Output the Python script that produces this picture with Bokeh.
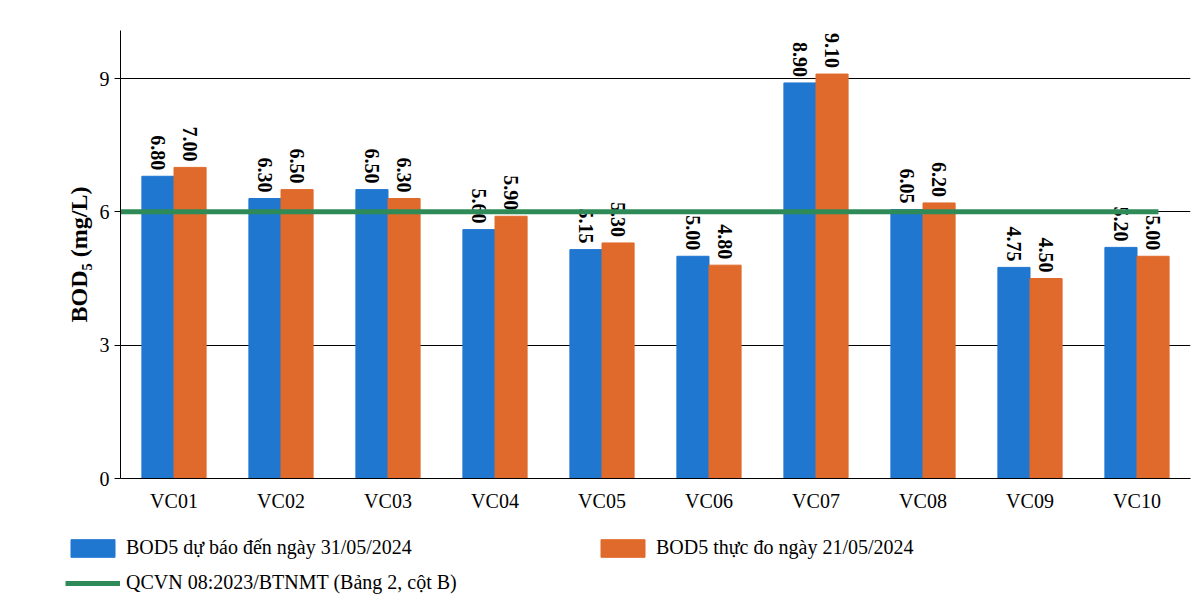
import math
from bokeh.plotting import figure
from bokeh.layouts import column, row
from bokeh.models import ColumnDataSource, FactorRange, Legend, LegendItem, FixedTicker
from bokeh.transform import dodge
from bokeh.embed import file_html
from bokeh.resources import INLINE

stations = ["VC01","VC02","VC03","VC04","VC05","VC06","VC07","VC08","VC09","VC10"]
forecast = [6.80,6.30,6.50,5.60,5.15,5.00,8.90,6.05,4.75,5.20]
measured = [7.00,6.50,6.30,5.90,5.30,4.80,9.10,6.20,4.50,5.00]
limit = 6.0
yticks = [0,3,6,9]
BLUE, ORANGE, GREEN = "#1f77d0", "#e06a2b", "#2e8b57"

src = ColumnDataSource(dict(x=stations, f=forecast, m=measured,
                            fl=[f"{v:.2f}" for v in forecast], ml=[f"{v:.2f}" for v in measured]))

p = figure(x_range=FactorRange(*stations, range_padding=0), y_range=(0, 10.08),
           width=1192, height=515, output_backend="svg", toolbar_location=None,
           min_border_left=120, min_border_right=2, min_border_top=30, min_border_bottom=37)
p.outline_line_color = None
p.xgrid.grid_line_color = None
p.ygrid.grid_line_color = "black"
p.ygrid.grid_line_width = 1
p.yaxis.ticker = FixedTicker(ticks=yticks)
for ax in (p.xaxis[0], p.yaxis[0]):
    ax.major_label_text_font = "Liberation Serif"
    ax.major_label_text_font_size = "20px"
    ax.major_label_text_color = "black"
    ax.axis_line_color = "black"
    ax.minor_tick_line_color = None
p.xaxis.major_tick_line_color = None
p.yaxis.major_tick_in = 0
p.yaxis.major_tick_out = 6
p.yaxis.axis_label = "BOD₅ (mg/L)"
p.yaxis.axis_label_text_font = "Liberation Serif"
p.yaxis.axis_label_text_font_size = "24px"
p.yaxis.axis_label_text_font_style = "bold"
p.yaxis.axis_label_text_color = "black"

w = 0.30
p.vbar(x=dodge("x", -w/2, range=p.x_range), top="f", width=w, source=src, color=BLUE)
p.vbar(x=dodge("x", w/2, range=p.x_range), top="m", width=w, source=src, color=ORANGE)
for col, lab, off in (("f","fl",-w/2),("m","ml",w/2)):
    p.text(x=dodge("x", off, range=p.x_range), y=col, text=lab, source=src, angle=-math.pi/2,
           text_font="Liberation Serif", text_font_size="20px", text_font_style="bold",
           text_align="right", text_baseline="middle", y_offset=-6)
p.segment(x0=[0.0], y0=[limit], x1=[9.7], y1=[limit], line_color=GREEN, line_width=5)

# legend panel (swatch renderers sit outside the visible range)
p2 = figure(width=1192, height=85, output_backend="svg", toolbar_location=None,
            x_range=(0, 1), y_range=(0, 1), min_border=0)
p2.axis.visible = False
p2.grid.visible = False
p2.outline_line_color = None
r1 = p2.vbar(x=[5], top=[5], bottom=[4], width=0.1, color=BLUE)
r2 = p2.vbar(x=[5], top=[5], bottom=[4], width=0.1, color=ORANGE)
r3 = p2.line(x=[5, 6], y=[5, 5], line_color=GREEN, line_width=5)
leg = Legend(items=[LegendItem(label="BOD5 dự báo đến ngày 31/05/2024", renderers=[r1]),
                    LegendItem(label="QCVN 08:2023/BTNMT (Bảng 2, cột B)", renderers=[r3]),
                    LegendItem(label="BOD5 thực đo ngày 21/05/2024", renderers=[r2])],
             ncols=2, label_text_font="Liberation Serif", label_text_font_size="20px",
             label_text_color="black", glyph_width=55, glyph_height=22, label_width=457,
             label_height=22, label_standoff=6, spacing=12, border_line_color=None,
             background_fill_alpha=0, location=(65, 6), padding=0, margin=0)
p2.add_layout(leg)

open("out.html", "w").write(file_html(column(p, row(p2), spacing=0), INLINE))
